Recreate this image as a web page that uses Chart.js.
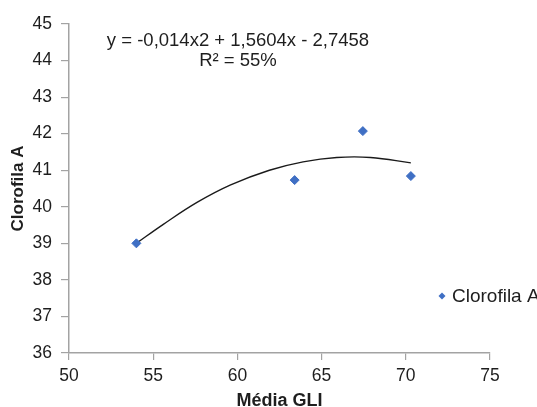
<!DOCTYPE html>
<html>
<head>
<meta charset="utf-8">
<script src="https://cdn.jsdelivr.net/npm/chart.js@4.4.0/dist/chart.umd.min.js"></script>
<style>
  html, body { margin: 0; padding: 0; background: #fff; }
  #wrap { width: 537px; height: 407px; }
</style>
</head>
<body>
<div id="wrap"><canvas id="myChart" width="537" height="407"></canvas></div>
<script>
const mediaGli = [54.0, 63.4, 67.45, 70.3];
const clorofilaA = [39.0, 40.73, 42.07, 40.84];

// trend curve (2nd order polynomial)
const trendX = [54.0, 55.6, 57.6, 59.6, 61.9, 63.9, 65.9, 67.9, 70.3];
const trendY = [39.0, 39.52, 40.12, 40.6, 41.0, 41.23, 41.35, 41.35, 41.2];

const xTicks = [50, 55, 60, 65, 70, 75];
const yTicks = [36, 37, 38, 39, 40, 41, 42, 43, 44, 45];

const seriesName = "Clorofila A";
const xTitle = "Média GLI";
const yTitle = "Clorofila A";
const equationLines = ["y = -0,014x2 + 1,5604x - 2,7458", "R² = 55%"];

const blue = "#3f6fc4";
const axisGrey = "#a3a3a3";
const textColor = "#1e1e1e";
const fontFamily = "'Liberation Sans', Arial, sans-serif";

// equation label + legend drawn on top of the chart
const extraText = {
	id: "extraText",
	afterDraw(chart) {
		const ctx = chart.ctx;
		ctx.save();
		ctx.fillStyle = textColor;
		ctx.font = "18.5px " + fontFamily;
		ctx.textAlign = "center";
		ctx.textBaseline = "alphabetic";
		ctx.fillText(equationLines[0], 238, 46);
		ctx.fillText(equationLines[1], 238, 66);

		// legend
		const lx = 442, ly = 296, r = 3.5;
		ctx.fillStyle = blue;
		ctx.beginPath();
		ctx.moveTo(lx, ly - r);
		ctx.lineTo(lx + r, ly);
		ctx.lineTo(lx, ly + r);
		ctx.lineTo(lx - r, ly);
		ctx.closePath();
		ctx.fill();
		ctx.fillStyle = textColor;
		ctx.font = "19px " + fontFamily;
		ctx.textAlign = "left";
		ctx.textBaseline = "middle";
		ctx.fillText(seriesName, 452, 297);
		ctx.restore();
	},
};

const ctx = document.getElementById("myChart").getContext("2d");
const myChart = new Chart(ctx, {
	type: "scatter",
	data: {
		datasets: [
			{
				label: seriesName,
				data: mediaGli.map((x, i) => ({ x: x, y: clorofilaA[i] })),
				backgroundColor: blue,
				borderColor: blue,
				pointStyle: "rectRot",
				pointRadius: 4.5,
				pointHoverRadius: 4.5,
				order: 1,
			},
			{
				label: "trend",
				type: "line",
				data: trendX.map((x, i) => ({ x: x, y: trendY[i] })),
				borderColor: "#1a1a1a",
				borderWidth: 1.4,
				pointRadius: 0,
				tension: 0.4,
				fill: false,
				order: 2,
			},
		],
	},
	options: {
		responsive: false,
		animation: false,
		events: [],
		layout: { padding: { top: 24, right: 47, left: 0, bottom: 0 } },
		plugins: {
			legend: { display: false },
			tooltip: { enabled: false },
		},
		scales: {
			x: {
				type: "linear",
				min: xTicks[0],
				max: xTicks[xTicks.length - 1],
				afterBuildTicks: (s) => { s.ticks = xTicks.map((v) => ({ value: v })); },
				afterFit: (s) => { s.height = 54; },
				grid: { display: true, drawOnChartArea: false, tickLength: 7, color: axisGrey, lineWidth: 1.2 },
				border: { color: axisGrey, width: 1.5 },
				ticks: { color: textColor, font: { family: fontFamily, size: 17.5 }, padding: 6, maxRotation: 0 },
				title: {
					display: true,
					text: xTitle,
					color: textColor,
					font: { family: fontFamily, size: 18, weight: "bold" },
					padding: { top: 0, bottom: -5 },
				},
			},
			y: {
				type: "linear",
				min: yTicks[0],
				max: yTicks[yTicks.length - 1],
				afterBuildTicks: (s) => { s.ticks = yTicks.map((v) => ({ value: v })); },
				afterFit: (s) => { s.width = 69; },
				grid: { display: true, drawOnChartArea: false, tickLength: 8, color: axisGrey, lineWidth: 1.2 },
				border: { color: axisGrey, width: 1.5 },
				ticks: { color: textColor, font: { family: fontFamily, size: 17.5 }, padding: 9 },
				title: {
					display: true,
					text: yTitle,
					color: textColor,
					font: { family: fontFamily, size: 17, weight: "bold" },
					padding: { top: 8, bottom: 0 },
				},
			},
		},
	},
	plugins: [extraText],
});
</script>
</body>
</html>
